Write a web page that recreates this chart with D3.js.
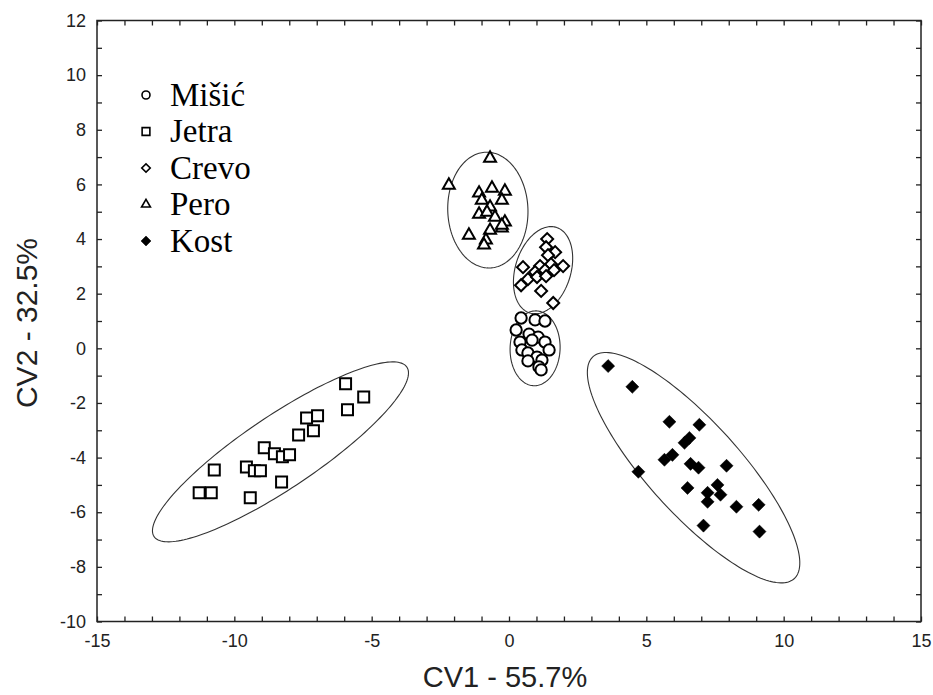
<!DOCTYPE html>
<meta charset="utf-8">
<script src="https://cdn.jsdelivr.net/npm/d3@7"></script>
<style>
  body { margin: 0; background: #fff; }
  .axis text { font-family: "Liberation Sans", Arial, sans-serif; font-size: 18px; fill: #222; }
  .axis path { display: none; }
  .axis line { stroke: #222; stroke-width: 1.3; }
</style>
<body>
<script>

var width = 933
var height = 695

// groups and their scores (CV1, CV2)
var groups = ["Mišić", "Jetra", "Crevo", "Pero", "Kost"]

var misicX = [0.44, 0.95, 1.31, 0.26, 0.73, 1.06, 0.40, 0.84, 1.31, 1.46, 0.47, 0.69, 1.02, 1.20, 0.69, 1.09, 1.17]
var misicY = [1.11, 1.04, 1.00, 0.67, 0.52, 0.41, 0.23, 0.30, 0.23, -0.06, -0.06, -0.17, -0.32, -0.43, -0.46, -0.68, -0.79]

var jetraX = [-5.95, -5.29, -5.88, -7.37, -6.97, -7.12, -7.66, -8.91, -8.54, -8.25, -7.99, -10.73, -9.56, -9.27, -9.05, -8.28, -11.28, -10.84, -9.42]
var jetraY = [-1.30, -1.78, -2.25, -2.55, -2.47, -3.02, -3.17, -3.64, -3.86, -3.97, -3.90, -4.45, -4.34, -4.48, -4.48, -4.89, -5.29, -5.29, -5.47]

var crevoX = [1.39, 1.35, 1.68, 1.42, 0.51, 1.13, 1.53, 1.97, 0.95, 1.31, 1.64, 0.69, 0.44, 1.02, 1.35, 1.17, 1.61]
var crevoY = [4.00, 3.70, 3.52, 3.41, 2.97, 3.01, 3.08, 3.01, 2.79, 2.86, 2.86, 2.53, 2.31, 2.61, 2.64, 2.10, 1.66]

var peroX = [-0.69, -2.19, -1.09, -0.62, -0.15, -0.99, -0.26, -0.69, -1.09, -0.80, -0.51, -0.15, -0.26, -1.46, -0.69, -0.84, -0.91, -0.26]
var peroY = [6.96, 5.97, 5.68, 5.86, 5.75, 5.42, 5.42, 5.17, 4.91, 4.98, 4.80, 4.62, 4.40, 4.14, 4.32, 3.96, 3.78, 4.50]

var kostX = [3.61, 4.49, 5.84, 6.93, 6.57, 6.39, 5.95, 5.66, 6.61, 6.90, 7.92, 4.71, 6.50, 7.59, 7.23, 7.70, 7.23, 8.28, 9.09, 7.08, 9.12]
var kostY = [-0.65, -1.41, -2.69, -2.80, -3.28, -3.46, -3.90, -4.08, -4.23, -4.37, -4.30, -4.52, -5.11, -5.00, -5.29, -5.36, -5.62, -5.80, -5.73, -6.49, -6.71]

// confidence ellipses: centre, semi-axes, angle of major axis (degrees)
var ellipseCx = [0.95, -8.32, 1.24, -0.77, 6.72]
var ellipseCy = [0.00, -3.79, 2.86, 5.06, -4.37]
var ellipseA = [1.37, 5.55, 1.64, 2.12, 5.47]
var ellipseB = [0.91, 1.33, 1.01, 1.46, 1.68]
var ellipseAngle = [88, 34, 73, 92, -48]

var xTicks = d3.range(-15, 16)
var yTicks = d3.range(-10, 13)

var seriesX = [misicX, jetraX, crevoX, peroX, kostX]
var seriesY = [misicY, jetraY, crevoY, peroY, kostY]

var x = d3.scaleLinear().domain([-15, 15]).range([97, 921])
var y = d3.scaleLinear().domain([-10, 12]).range([621.5, 20.5])

var svg = d3.select("body").append("svg")
            .attr("width", width)
            .attr("height", height)

// symbols
var symbolTypes = [d3.symbolCircle, d3.symbolSquare, d3.symbolSquare, d3.symbolTriangle, d3.symbolSquare]
var symbolSizes = [100, 121, 72, 62, 85]
var symbolRot = [0, 0, 45, 0, 45]
var symbolFill = ["#fff", "#fff", "#fff", "#fff", "#000"]

// axes with inward ticks on all four sides
svg.append("g")
   .attr("class", "axis")
   .attr("transform", "translate(0," + y(-10) + ")")
   .call(d3.axisBottom(x).tickValues(xTicks).tickSize(-5).tickPadding(13)
           .tickFormat(function(d) { return d % 5 === 0 ? String(d) : "" }))

svg.append("g")
   .attr("class", "axis")
   .attr("transform", "translate(0," + y(12) + ")")
   .call(d3.axisTop(x).tickValues(xTicks).tickSize(-5).tickFormat(""))

svg.append("g")
   .attr("class", "axis")
   .attr("transform", "translate(" + x(-15) + ",0)")
   .call(d3.axisLeft(y).tickValues(yTicks).tickSize(-5).tickPadding(11)
           .tickFormat(function(d) { return d % 2 === 0 ? String(d) : "" }))

svg.append("g")
   .attr("class", "axis")
   .attr("transform", "translate(" + x(15) + ",0)")
   .call(d3.axisRight(y).tickValues(yTicks).tickSize(-5).tickFormat(""))

svg.append("rect")
   .attr("x", x(-15)).attr("y", y(12))
   .attr("width", x(15) - x(-15)).attr("height", y(-10) - y(12))
   .attr("fill", "none").attr("stroke", "#222").attr("stroke-width", 1.5)

// ellipses
var ellLine = d3.line().x(function(p) { return x(p[0]) }).y(function(p) { return y(p[1]) }).curve(d3.curveLinearClosed)
groups.forEach(function(g, i) {
  var phi = ellipseAngle[i] * Math.PI / 180
  var pts = d3.range(0, 360, 2).map(function(t) {
    var r = t * Math.PI / 180
    var u = ellipseA[i] * Math.cos(r), v = ellipseB[i] * Math.sin(r)
    return [ellipseCx[i] + u * Math.cos(phi) - v * Math.sin(phi),
            ellipseCy[i] + u * Math.sin(phi) + v * Math.cos(phi)]
  })
  svg.append("path").attr("d", ellLine(pts))
     .attr("fill", "none").attr("stroke", "#333").attr("stroke-width", 1.1)
})

// points
groups.forEach(function(g, i) {
  var sym = d3.symbol().type(symbolTypes[i]).size(symbolSizes[i])
  svg.append("g").selectAll("path")
     .data(d3.range(seriesX[i].length))
     .join("path")
     .attr("d", sym)
     .attr("transform", function(k) {
       return "translate(" + x(seriesX[i][k]) + "," + y(seriesY[i][k]) + ") rotate(" + symbolRot[i] + ")"
     })
     .attr("fill", symbolFill[i])
     .attr("stroke", "#000")
     .attr("stroke-width", i === 4 ? 0.5 : 2)
})

// legend
var legend = svg.append("g")
var legendSizes = [50, 60, 36, 34, 50]
groups.forEach(function(g, i) {
  var yy = 95 + i * 36.5
  legend.append("path")
        .attr("d", d3.symbol().type(symbolTypes[i]).size(legendSizes[i]))
        .attr("transform", "translate(146," + yy + ") rotate(" + symbolRot[i] + ")")
        .attr("fill", symbolFill[i]).attr("stroke", "#000").attr("stroke-width", i === 4 ? 0.5 : 1.6)
  legend.append("text")
        .attr("x", 170).attr("y", yy + 10.5)
        .style("font-family", "'Liberation Serif', 'Times New Roman', serif")
        .style("font-size", "33px")
        .attr("fill", "#000")
        .text(g)
})

// axis titles
svg.append("text")
   .attr("x", 505).attr("y", 687)
   .style("text-anchor", "middle")
   .style("font-family", "'Liberation Sans', Arial, sans-serif")
   .style("font-size", "29px").attr("fill", "#222")
   .text("CV1 - 55.7%")

svg.append("text")
   .attr("transform", "translate(37,323) rotate(-90)")
   .style("text-anchor", "middle")
   .style("font-family", "'Liberation Sans', Arial, sans-serif")
   .style("font-size", "30px").attr("fill", "#222")
   .text("CV2 - 32.5%")

</script>
</body>
